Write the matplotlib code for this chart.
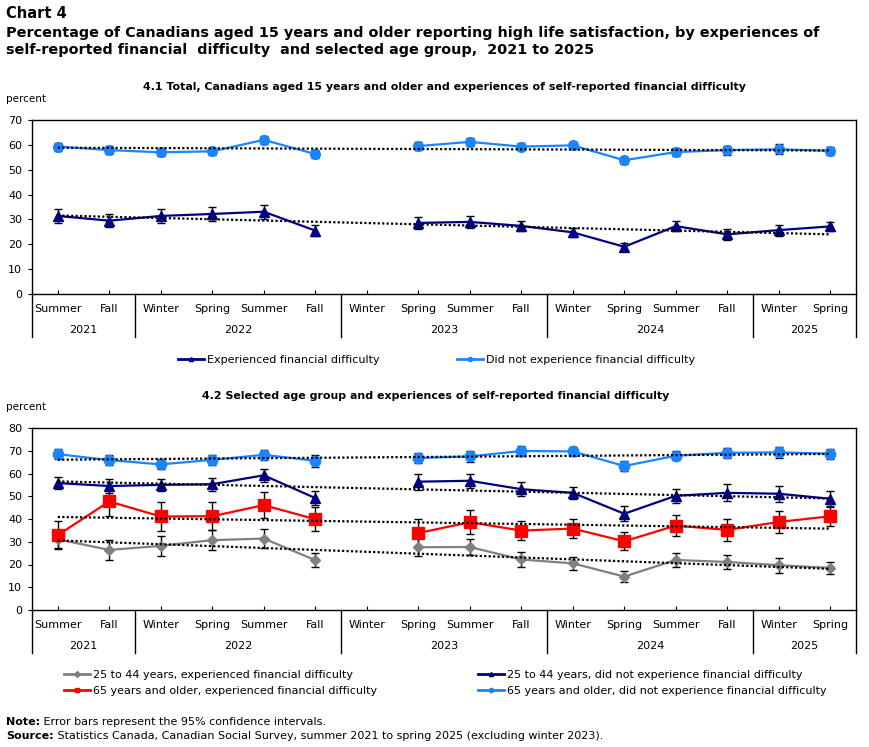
import matplotlib
matplotlib.use("Agg")
import matplotlib.pyplot as plt
import matplotlib.transforms as mtransforms
from matplotlib.lines import Line2D
import numpy as np

nan = np.nan

seasons = ["Summer", "Fall", "Winter", "Spring", "Summer", "Fall", "Winter", "Spring",
           "Summer", "Fall", "Winter", "Spring", "Summer", "Fall", "Winter", "Spring"]
years = ["2021", "2022", "2023", "2024", "2025"]
year_counts = [2, 4, 4, 4, 2]

# 4.1 Total
total_exp = [31.4, 29.5, 31.4, 32.2, 33.1, 25.5, nan, 28.6, 29.0, 27.4, 24.8, 19.0, 27.3, 24.0, 25.7, 27.2]
total_exp_err = [2.9, 2.7, 2.8, 2.8, 2.8, 2.1, nan, 2.5, 2.4, 2.0, 1.7, 1.5, 2.1, 2.1, 2.2, 1.9]
total_not = [59.3, 57.9, 57.0, 57.4, 62.0, 56.3, nan, 59.5, 61.2, 59.3, 59.8, 53.8, 57.1, 57.9, 58.2, 57.6]
total_not_err = [1.6, 1.5, 1.4, 1.5, 1.5, 1.7, nan, 1.6, 1.7, 1.4, 1.3, 1.5, 1.6, 1.8, 2.0, 1.5]

# 4.2 Age groups
y25_exp = [31.1, 26.4, 28.2, 30.7, 31.4, 21.9, nan, 27.6, 27.7, 22.2, 20.5, 14.7, 22.0, 21.1, 19.7, 18.5]
y25_exp_err = [4.0, 4.3, 4.3, 4.3, 4.0, 3.2, nan, 4.0, 3.6, 3.1, 2.8, 2.3, 3.1, 3.2, 3.3, 2.8]
y25_not = [55.8, 54.5, 55.0, 55.3, 59.2, 49.2, nan, 56.4, 56.8, 53.1, 51.5, 42.3, 50.2, 51.5, 51.1, 48.9]
y25_not_err = [2.6, 3.1, 2.7, 2.9, 2.9, 3.2, nan, 3.5, 3.2, 3.2, 2.6, 3.2, 3.2, 3.7, 3.6, 3.4]
y65_exp = [32.9, 47.7, 41.1, 41.2, 46.1, 39.9, nan, 33.8, 38.6, 34.9, 35.8, 30.2, 37.1, 35.2, 38.7, 41.2]
y65_exp_err = [6.3, 6.6, 6.2, 6.2, 5.8, 5.3, nan, 6.0, 5.3, 4.2, 4.1, 3.9, 4.5, 4.8, 4.8, 4.1]
y65_not = [68.5, 65.9, 64.0, 66.0, 68.2, 65.6, nan, 66.8, 67.5, 69.9, 69.7, 63.3, 67.8, 69.1, 69.3, 68.7]
y65_not_err = [2.1, 2.2, 2.2, 2.3, 2.1, 2.6, nan, 2.4, 2.3, 2.1, 1.9, 2.4, 2.0, 2.2, 2.4, 2.2]

LIGHT = "#1a85ff"
NAVY = "#000080"
RED = "#ff0000"
GRAY = "#808080"

W, H = 870, 747
fig = plt.figure(figsize=(W / 100, H / 100), dpi=100)
plt.rcParams["font.family"] = ["DejaVu Sans"]


def fx(px):
    return px / W


def fy(py):
    return 1 - py / H


def add_panel(top, bottom, ymax):
    ax = fig.add_axes([fx(32), fy(bottom), fx(856 - 32), (bottom - top) / H])
    ax.set_xlim(-0.5, 15.5)
    ax.set_ylim(0, ymax)
    ax.set_yticks(range(0, ymax + 1, 10))
    ax.tick_params(axis="y", direction="out", length=3, labelsize=8, pad=4)
    ax.set_xticks(range(16))
    ax.tick_params(axis="x", direction="in", length=3, labelbottom=False)
    for s in ax.spines.values():
        s.set_linewidth(1)
    hpx = bottom - top
    trans = mtransforms.blended_transform_factory(ax.transData, ax.transAxes)
    for i, lab in enumerate(seasons):
        ax.text(i, -15 / hpx, lab, transform=trans, ha="center", va="center", fontsize=8)
    start = -0.5
    bounds = [start]
    for yr, n in zip(years, year_counts):
        ax.text(start + n / 2, -36 / hpx, yr, transform=trans, ha="center", va="center", fontsize=8)
        start += n
        bounds.append(start)
    for b in bounds:
        ax.add_line(Line2D([b, b], [0, -43 / hpx], transform=trans, color="black",
                           lw=1, clip_on=False))
    return ax


def series(ax, vals, errs, color, marker, ms):
    x = np.arange(16)
    v = np.array(vals, dtype=float)
    e = np.array(errs, dtype=float)
    ax.errorbar(x, v, yerr=e, fmt="none", ecolor="black", elinewidth=1, capsize=3,
                capthick=1, zorder=2)
    ax.plot(x, v, color=color, lw=1.6, marker=marker, ms=ms, zorder=3)
    ok = ~np.isnan(v)
    k, c = np.polyfit(x[ok], v[ok], 1)
    ax.plot([0, 15], [c, c + 15 * k], color="black", lw=1.6, ls=(0, (1, 1)), zorder=4)


# Titles
fig.text(fx(6), fy(13), "Chart 4", fontsize=10.5, fontweight="bold", va="center")
fig.text(fx(6), fy(33), "Percentage of Canadians aged 15 years and older reporting high life "
         "satisfaction, by experiences of", fontsize=10.4, fontweight="bold", va="center")
fig.text(fx(6), fy(50), "self-reported financial  difficulty  and selected age group,  2021 to 2025",
         fontsize=10.4, fontweight="bold", va="center")

# Panel 4.1
fig.text(fx(444), fy(87), "4.1 Total, Canadians aged 15 years and older and experiences of "
         "self-reported financial difficulty", fontsize=7.9, fontweight="bold",
         ha="center", va="center")
fig.text(fx(6), fy(99), "percent", fontsize=7.5, va="center")
ax1 = add_panel(120, 294, 70)
series(ax1, total_exp, total_exp_err, NAVY, "^", 7)
series(ax1, total_not, total_not_err, LIGHT, "o", 7)

legend_kw = dict(frameon=False, borderpad=0, borderaxespad=0, handlelength=2.3,
                 handletextpad=0.3, fontsize=8, loc="center left")
fig.legend(handles=[Line2D([], [], color=NAVY, lw=2, marker="^", ms=3)],
           labels=["Experienced financial difficulty"],
           bbox_to_anchor=(fx(178), fy(360)), **legend_kw)
fig.legend(handles=[Line2D([], [], color=LIGHT, lw=2, marker="o", ms=3)],
           labels=["Did not experience financial difficulty"],
           bbox_to_anchor=(fx(457), fy(360)), **legend_kw)

# Panel 4.2
fig.text(fx(436), fy(396), "4.2 Selected age group and experiences of self-reported financial difficulty",
         fontsize=7.9, fontweight="bold", ha="center", va="center")
fig.text(fx(6), fy(407), "percent", fontsize=7.5, va="center")
ax2 = add_panel(428, 610, 80)
series(ax2, y25_exp, y25_exp_err, GRAY, "D", 5.5)
series(ax2, y65_exp, y65_exp_err, RED, "s", 8)
series(ax2, y25_not, y25_not_err, NAVY, "^", 7.5)
series(ax2, y65_not, y65_not_err, LIGHT, "o", 7.5)

rows = [
    (64, 675, GRAY, "D", "25 to 44 years, experienced financial difficulty"),
    (64, 691, RED, "s", "65 years and older, experienced financial difficulty"),
    (478, 675, NAVY, "^", "25 to 44 years, did not experience financial difficulty"),
    (478, 691, LIGHT, "o", "65 years and older, did not experience financial difficulty"),
]
for x0, y0, col, mk, lab in rows:
    fig.legend(handles=[Line2D([], [], color=col, lw=2, marker=mk, ms=3)], labels=[lab],
               bbox_to_anchor=(fx(x0), fy(y0)), **legend_kw)

# Notes
renderer = fig.canvas.get_renderer()
for y0, head, body in [(722, "Note:", " Error bars represent the 95% confidence intervals."),
                       (736, "Source:", " Statistics Canada, Canadian Social Survey, summer 2021 "
                                        "to spring 2025 (excluding winter 2023).")]:
    t = fig.text(fx(6), fy(y0), head, fontsize=8, fontweight="bold", va="center")
    bb = t.get_window_extent(renderer)
    fig.text(bb.x1 / W, fy(y0), body, fontsize=8, va="center")

fig.savefig("out.png", dpi=100)
